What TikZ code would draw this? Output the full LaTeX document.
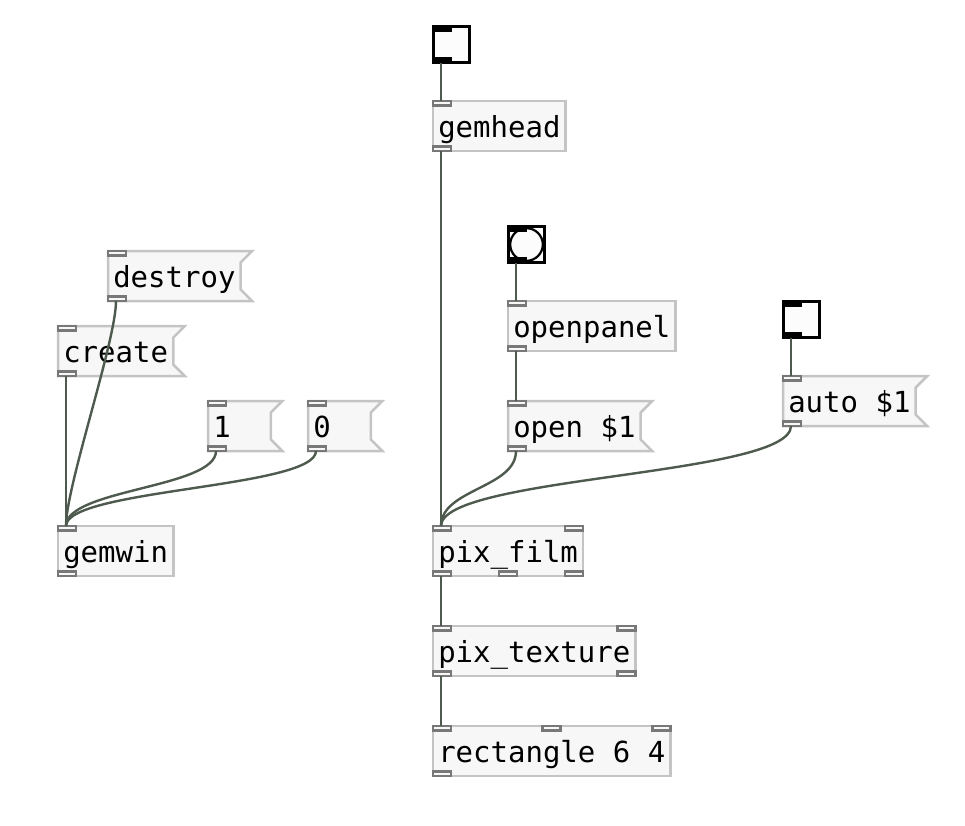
\documentclass[tikz,border=0pt]{standalone}
\usepackage{fontspec}
\newfontfamily\pdfont{DejaVu Sans Mono}
\usepackage{tikz}
\usetikzlibrary{backgrounds,calc}
\definecolor{PdFill}{HTML}{F6F7F6}
\definecolor{PdEdge}{HTML}{C4C4C4}
\definecolor{PdPort}{HTML}{787878}
\definecolor{PdCord}{HTML}{4E5A4E}
\definecolor{PdTgl} {HTML}{FCFCFC}
\begin{document}
\begin{tikzpicture}[x=1pt,y=-1pt,
  box/.style={anchor=north west,inner xsep=5.25pt,inner ysep=12pt,
    text height=24pt,text depth=2pt,outer sep=0pt,
    font=\pdfont\fontsize{29}{34}\selectfont},
  obj/.style={box,draw=PdEdge,line width=2.5pt,fill=PdFill},
  msg/.style={box},
  flag/.style={draw=PdEdge,line width=2.5pt,fill=PdFill,line join=miter},
  tgl/.style={anchor=north west,draw=black,line width=3pt,fill=PdTgl,
    minimum size=36pt,inner sep=0pt,outer sep=0pt},
  port/.style={draw=PdPort,line width=2.5pt,fill=PdFill},
  bar/.style={fill=black},
  cord/.style={draw=PdCord,line width=2.4pt}]
  \useasboundingbox (0,0) rectangle (965,825);

  \node[tgl] (tgA) at (433.5,26.5) {};
  \node[obj] (gemhead) at (433,101) {gemhead};
  \node[tgl] (bng) at (508.5,226.5) {};
  \draw[line width=2.2pt] (bng.center) circle[radius=16.3];
  \node[obj] (openpanel) at (508,301) {openpanel};
  \node[msg] (openmsg) at (508,401) {open \$1};
  \node[tgl] (tgB) at (783.5,301.5) {};
  \node[msg] (automsg) at (783,376) {auto \$1};
  \node[msg] (destroy) at (108,251) {destroy};
  \node[msg] (create) at (58,326) {create};
  \node[msg,text width=52.4pt,align=left] (one) at (208,401) {1};
  \node[msg,text width=52.4pt,align=left] (zero) at (308,401) {0};
  \node[obj] (gemwin) at (58,526) {gemwin};
  \node[obj] (film) at (433,526) {pix\_film};
  \node[obj] (texture) at (433,626) {pix\_texture};
  \node[obj] (rect) at (433,726) {rectangle 6 4};

  \begin{scope}[on background layer]
    \foreach \m in {openmsg,automsg,destroy,create,one,zero}
      \draw[flag] (\m.north west) -- ([xshift=11.5pt]\m.north east)
        -- ([yshift=-11.5pt]\m.north east) -- ([yshift=11.5pt]\m.south east)
        -- ([xshift=11.5pt]\m.south east) -- (\m.south west) -- cycle;
  \end{scope}

  \foreach \t in {tgA,bng,tgB}{
    \fill[bar] (\t.north west) ++(-1.5,-1.5) rectangle ++(20,7);
    \fill[bar] (\t.south west) ++(-1.5,1.5) rectangle ++(20,-7);
  }
  \foreach \n in {gemhead,openpanel,openmsg,automsg,destroy,create,one,zero,
    gemwin,film,texture,rect}
    \draw[port] (\n.north west) rectangle ++(18,4.5);
  \foreach \n in {gemhead,openpanel,openmsg,automsg,destroy,create,one,zero,
    gemwin,film,texture,rect}
    \draw[port] (\n.south west) rectangle ++(18,-4.5);
  \foreach \n in {film,texture,rect}
    \draw[port] (\n.north east) rectangle ++(-18,4.5);
  \foreach \n in {film,texture}
    \draw[port] (\n.south east) rectangle ++(-18,-4.5);
  \draw[port] (film.south) ++(-9,0) rectangle ++(18,-4.5);
  \draw[port] (rect.north) ++(-9,0) rectangle ++(18,4.5);

  \draw[cord] ([xshift=7.5pt]tgA.south west) -- ([xshift=8pt]gemhead.north west);
  \draw[cord] ([xshift=8pt]gemhead.south west) -- ([xshift=8pt]film.north west);
  \draw[cord] ([xshift=7.5pt]bng.south west) -- ([xshift=8pt]openpanel.north west);
  \draw[cord] ([xshift=8pt]openpanel.south west) -- ([xshift=8pt]openmsg.north west);
  \draw[cord] ([xshift=8pt]openmsg.south west)
    .. controls +(0,37) and +(0,-37) .. ([xshift=8pt]film.north west);
  \draw[cord] ([xshift=7.5pt]tgB.south west) -- ([xshift=8pt]automsg.north west);
  \draw[cord] ([xshift=8pt]automsg.south west)
    .. controls +(0,50) and +(0,-50) .. ([xshift=8pt]film.north west);
  \draw[cord] ([xshift=8pt]film.south west) -- ([xshift=8pt]texture.north west);
  \draw[cord] ([xshift=8pt]texture.south west) -- ([xshift=8pt]rect.north west);
  \draw[cord] ([xshift=8pt]destroy.south west)
    .. controls +(0,40) and +(0,-40) .. ([xshift=8pt]gemwin.north west);
  \draw[cord] ([xshift=8pt]create.south west) -- ([xshift=8pt]gemwin.north west);
  \draw[cord] ([xshift=8pt]one.south west)
    .. controls +(0,37) and +(0,-37) .. ([xshift=8pt]gemwin.north west);
  \draw[cord] ([xshift=8pt]zero.south west)
    .. controls +(0,37) and +(0,-37) .. ([xshift=8pt]gemwin.north west);
\end{tikzpicture}
\end{document}
